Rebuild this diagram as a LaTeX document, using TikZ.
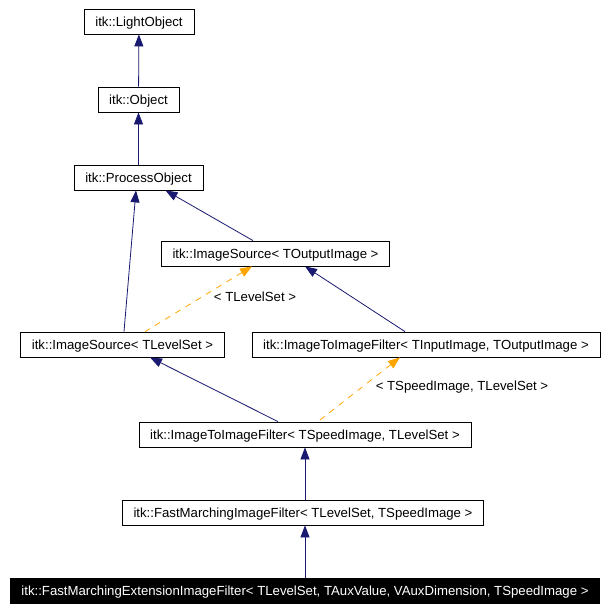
\documentclass[tikz,border=0pt]{standalone}
\usepackage{fontspec}
\setmainfont{Liberation Sans}
\usetikzlibrary{arrows.meta}
\definecolor{EdgeNavy}{RGB}{25, 25, 112}
\definecolor{EdgeOrange}{RGB}{255, 165, 0}

\begin{document}
\begin{tikzpicture}[
    x=1pt, y=-1pt,
    cls/.style={draw, thick, fill=white, minimum height=25pt, inner xsep=11.25pt, text height=9.5pt, text depth=0pt, font=\fontsize{13.2}{15}\selectfont},
    current/.style={cls, fill=black, text=white},
    inherit/.style={{Triangle[length=12pt,width=9pt]}-, thick, EdgeNavy},
    templ/.style={{Triangle[length=12pt,width=9pt]}-, thick, EdgeOrange, dash pattern=on 6pt off 6pt},
    tlabel/.style={font=\fontsize{13.2}{15}\selectfont}
  ]
    \useasboundingbox (0,0) rectangle (610,610);

    % Classes
    \node[cls] (lobj) at (139, 21.5) {itk::LightObject};
    \node[cls] (obj) at (138.5, 99.5) {itk::Object};
    \node[cls] (pobj) at (138.5, 177.5) {itk::ProcessObject};
    \node[cls] (srcout) at (275.5, 253.5) {itk::ImageSource< TOutputImage >};
    \node[cls] (srclvl) at (122.5, 344.5) {itk::ImageSource< TLevelSet >};
    \node[cls] (i2iio) at (426, 344.5) {itk::ImageToImageFilter< TInputImage, TOutputImage >};
    \node[cls] (i2isl) at (305, 434.5) {itk::ImageToImageFilter< TSpeedImage, TLevelSet >};
    \node[cls] (fmif) at (303, 512.5) {itk::FastMarchingImageFilter< TLevelSet, TSpeedImage >};
    \node[current] (fmeif) at (305, 590.5) {itk::FastMarchingExtensionImageFilter< TLevelSet, TAuxValue, VAuxDimension, TSpeedImage >};

    % Inheritance
    \draw[inherit] (lobj) -- (obj);
    \draw[inherit] (obj) -- (pobj);
    \draw[inherit] ([xshift=-2.5pt]pobj.south) -- ([xshift=1.5pt]srclvl.north);
    \draw[inherit] ([xshift=27pt]pobj.south) -- ([xshift=-22.5pt]srcout.north);
    \draw[inherit] ([xshift=29.5pt]srcout.south) -- ([xshift=-21pt]i2iio.north);
    \draw[inherit] ([xshift=27.5pt]srclvl.south) -- ([xshift=-27pt]i2isl.north);
    \draw[inherit] (i2isl.south) -- (fmif.north -| i2isl.south);
    \draw[inherit] (fmif.south -| fmeif.north) -- (fmeif.north);

    % Template instances
    \draw[templ] ([xshift=-23.5pt]srcout.south) -- ([xshift=22.5pt]srclvl.north);
    \draw[templ] ([xshift=-26pt]i2iio.south) -- ([xshift=13pt]i2isl.north);

    % Labels
    \node[tlabel] (lbllvl) at (255, 297) {< TLevelSet >};
    \node[tlabel] (lblspeed) at (462, 387) {< TSpeedImage, TLevelSet >};
  \end{tikzpicture}
\end{document}
